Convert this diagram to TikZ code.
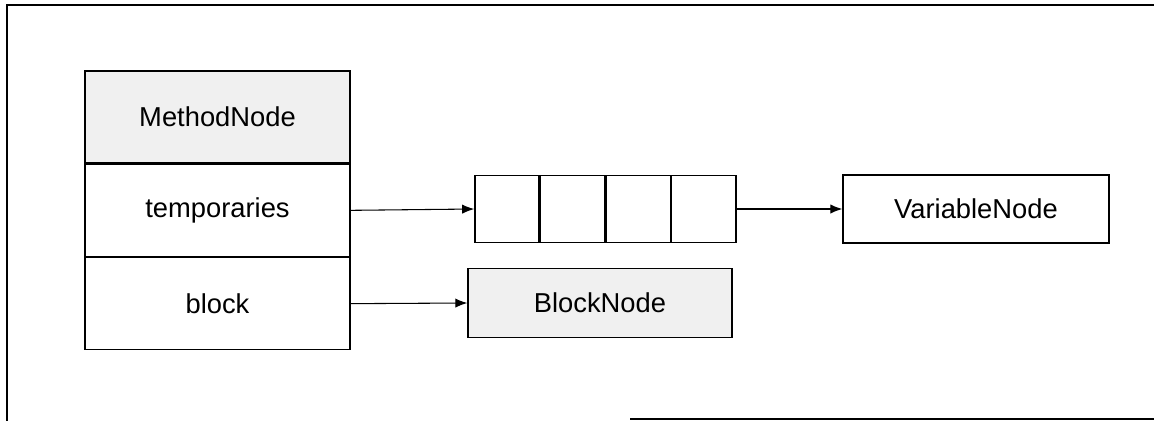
\documentclass[tikz,border=0pt]{standalone}
\usepackage{fontspec}
\setmainfont{Liberation Sans}
\usepackage{tikz}
\usetikzlibrary{arrows.meta, positioning}
\definecolor{shade}{RGB}{240, 240, 240}
\tikzset{
    box/.style={draw=black, line width=1pt, fill=white, align=center, font=\fontsize{20.5}{24}\selectfont, inner sep=0pt},
    field/.style={box, minimum width=198.75pt, minimum height=69pt},
    shadedbox/.style={box, fill=shade},
    cell/.style={box, minimum width=48.2pt, minimum height=50.25pt},
    arr/.style={-{Latex[length=9pt, width=7pt]}, line width=0.8pt, draw=black},
    frame/.style={line width=1.2pt, draw=black}
}

\begin{document}
\begin{tikzpicture}[x=0.75pt, y=-0.75pt]
        \useasboundingbox (0,0) rectangle (1154,421);
        % scanned page border
        \draw[frame] (7,421) -- (7,5) -- (1154,5);
        \draw[frame] (630,419) -- (1154,419);

        % method node with its fields
        \node[field, shadedbox, minimum width=198.75pt, minimum height=69pt] (methodhead) at (217.5,117) {MethodNode};
        \node[field, below=0pt of methodhead] (methodtemps) {temporaries};
        \node[field, below=0pt of methodtemps] (methodblock) {block};

        % array of temporaries
        \node[cell] (cellA) at (507,209) {};
        \node[cell, right=0pt of cellA] (cellB) {};
        \node[cell, right=0pt of cellB] (cellC) {};
        \node[cell, right=0pt of cellC] (cellD) {};

        \node[box, minimum width=199.5pt, minimum height=51pt] (varnode) at (976,209) {VariableNode};
        \node[shadedbox, minimum width=198pt, minimum height=51.75pt] (blocknode) at (600,303) {BlockNode};

        \draw[arr] (methodtemps.east) -- (cellA.west);
        \draw[arr] (cellD.east) -- (varnode.west);
        \draw[arr] (methodblock.east) -- (blocknode.west);
      \end{tikzpicture}
\end{document}
